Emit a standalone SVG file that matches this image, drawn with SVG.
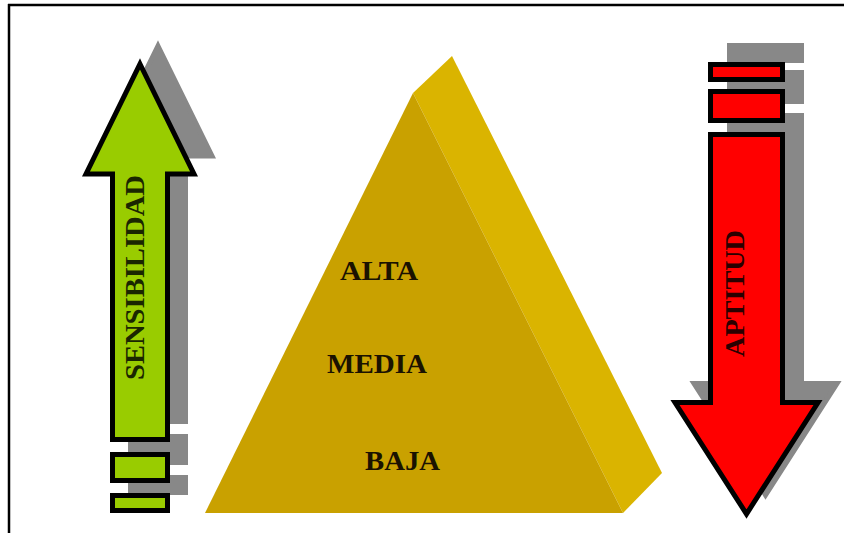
<svg xmlns="http://www.w3.org/2000/svg" width="844" height="533" viewBox="0 0 844 533">
  <style>
    .shadow { fill: #888888; stroke: #888888; stroke-width: 5; stroke-linejoin: miter; }
    .green { fill: #99CC00; stroke: #000000; stroke-width: 5; stroke-linejoin: miter; }
    .red { fill: #FF0000; stroke: #000000; stroke-width: 5; stroke-linejoin: miter; }
    .lbl { font-family: "Liberation Serif", "Times New Roman", serif; font-weight: bold; font-size: 28px; }
  </style>
  <rect x="0" y="0" width="844" height="533" fill="#ffffff"/>
  <g id="frame">
    <line x1="8" y1="5" x2="844" y2="5" stroke="#000" stroke-width="2.5"/>
    <line x1="9" y1="4" x2="9" y2="533" stroke="#000" stroke-width="2.5"/>
  </g>

  <g id="sensibilidad-arrow">
    <g transform="translate(18,-18)">
      <path class="shadow" d="M140,64 L194,174 L167.5,174 L167.5,439.5 L112.5,439.5 L112.5,174 L86,174 Z"/>
      <rect class="shadow" x="112.5" y="454.5" width="55" height="26"/>
      <rect class="shadow" x="112.5" y="495.5" width="55" height="15"/>
    </g>
    <path class="green" d="M140,64 L194,174 L167.5,174 L167.5,439.5 L112.5,439.5 L112.5,174 L86,174 Z"/>
    <rect class="green" x="112.5" y="454.5" width="55" height="26"/>
    <rect class="green" x="112.5" y="495.5" width="55" height="15"/>
    <text class="lbl" fill="#1a2600" transform="translate(144,380) rotate(-90)" textLength="205" lengthAdjust="spacingAndGlyphs">SENSIBILIDAD</text>
  </g>

  <g id="piramide">
    <polygon points="413,93 452,56 662,473 623,513" fill="#DAB400"/>
    <polygon points="413,93 623,513 205,513" fill="#C9A100"/>
    <text id="alta" class="lbl" fill="#1a1200" x="340" y="280" textLength="78" lengthAdjust="spacingAndGlyphs">ALTA</text>
    <text id="media" class="lbl" fill="#1a1200" x="327" y="373" textLength="100" lengthAdjust="spacingAndGlyphs">MEDIA</text>
    <text id="baja" class="lbl" fill="#1a1200" x="365" y="470" textLength="75" lengthAdjust="spacingAndGlyphs">BAJA</text>
  </g>

  <g id="aptitud-arrow">
    <g transform="translate(19,-19)">
      <rect class="shadow" x="710.5" y="64.5" width="72" height="15"/>
      <rect class="shadow" x="710.5" y="91.5" width="72" height="29"/>
      <path class="shadow" d="M710.5,134.5 L782.5,134.5 L782.5,402.5 L818,402.5 L746.5,514 L675,402.5 L710.5,402.5 Z"/>
    </g>
    <rect class="red" x="710.5" y="64.5" width="72" height="15"/>
    <rect class="red" x="710.5" y="91.5" width="72" height="29"/>
    <path class="red" d="M710.5,134.5 L782.5,134.5 L782.5,402.5 L818,402.5 L746.5,514 L675,402.5 L710.5,402.5 Z"/>
    <text class="lbl" fill="#2a0000" transform="translate(744,357) rotate(-90)" textLength="127" lengthAdjust="spacingAndGlyphs">APTITUD</text>
  </g>
</svg>
